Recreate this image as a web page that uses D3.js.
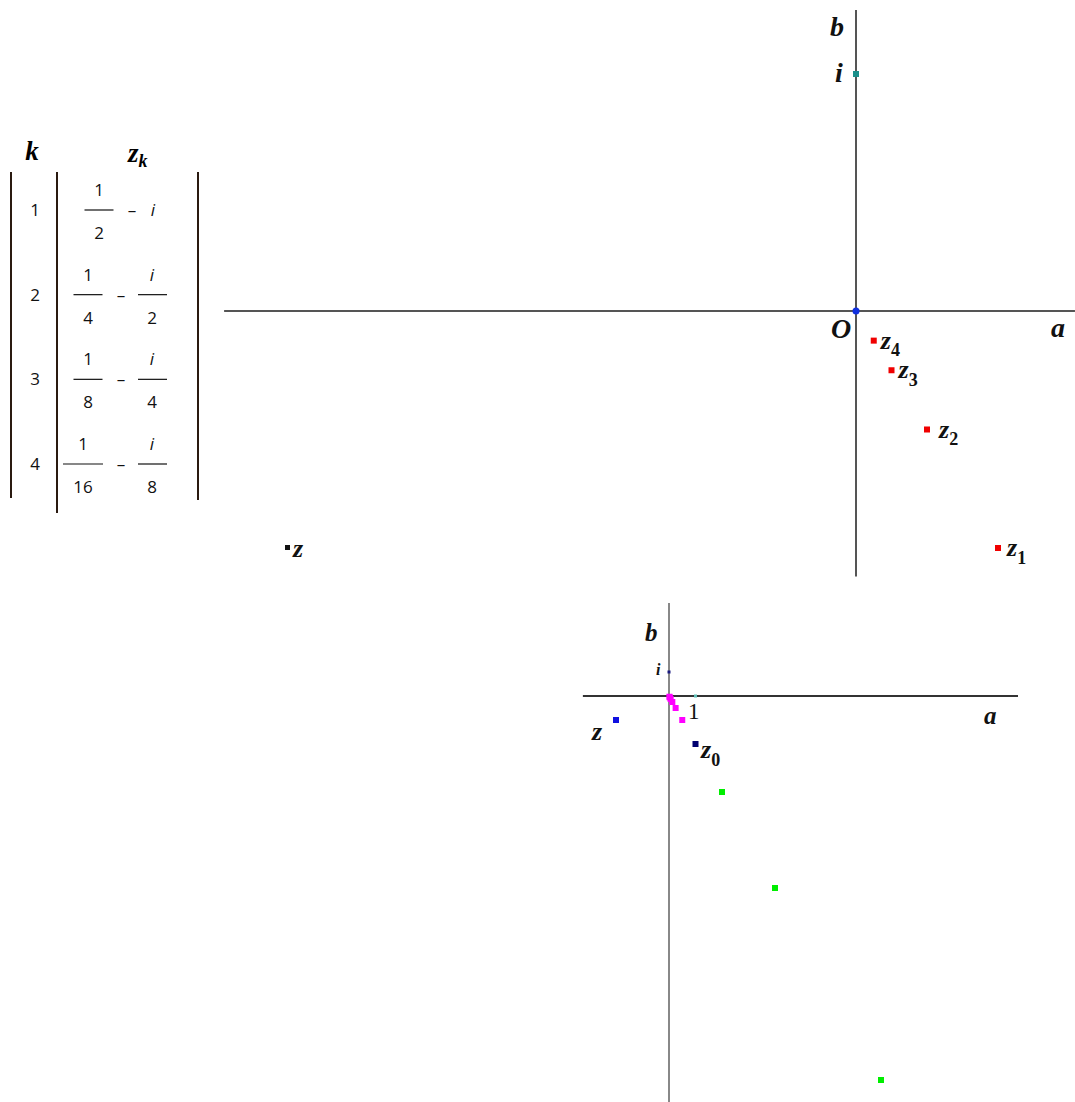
<!DOCTYPE html>
<html><head><meta charset="utf-8">
<script src="https://cdn.jsdelivr.net/npm/d3@7"></script>
<style>body{margin:0;background:#fff}svg{display:block}</style>
</head><body>
<svg id="c" width="1075" height="1102"></svg>
<script>
// ---- data ----
const tableK = ["1", "2", "3", "4"];
const tableReNum = ["1", "1", "1", "1"];
const tableReDen = ["2", "4", "8", "16"];
const tableImDen = [null, "2", "4", "8"];   // null => plain "i"
const zkRe = [0.5, 0.25, 0.125, 0.0625];
const zkIm = [-1, -0.5, -0.25, -0.125];
const zkLabels = ["1", "2", "3", "4"];
const zPoint = {re: -2, im: -1};
const z0Point = {re: 1, im: -2};
const iPoint = {re: 0, im: 1};
const onePoint = {re: 1, im: 0};
const magentaRe = [0.5, 0.25, 0.125, 0.0625, 0.03125, 0.015625];
const magentaIm = [-1, -0.5, -0.25, -0.125, -0.0625, -0.03125];
const greenRe = [2, 4, 8];
const greenIm = [-4, -8, -16];

const svg = d3.select("#c");
const serif = "'Liberation Serif','Times New Roman',serif";
const sans = "'Open Sans','Noto Sans',sans-serif";

// ---- table ----
const tbl = svg.append("g");
const rowY = d3.scaleLinear().domain([0, 3]).range([210, 464]);
tbl.append("text").attr("x", 32).attr("y", 160).attr("text-anchor", "middle")
  .attr("font-family", serif).attr("font-weight", "bold").attr("font-style", "italic")
  .attr("font-size", 27).text("k");
const zkH = tbl.append("text").attr("x", 128).attr("y", 162)
  .attr("font-family", serif).attr("font-weight", "bold").attr("font-style", "italic").attr("font-size", 27);
zkH.append("tspan").text("z");
zkH.append("tspan").attr("font-size", 18).attr("dy", 5).text("k");
[[11, 172, 498], [57, 172, 513], [198, 172, 500]].forEach(([x, y1, y2]) => {
  tbl.append("line").attr("x1", x).attr("x2", x).attr("y1", y1).attr("y2", y2)
    .attr("stroke", "#2a1a10").attr("stroke-width", 2);
});
tableK.forEach((k, i) => {
  const y = rowY(i);
  const g = tbl.append("g").attr("font-family", sans).attr("font-size", 17).attr("fill", "#111");
  g.append("text").attr("x", 35).attr("y", y + 6).attr("text-anchor", "middle").text(k);
  const single = tableImDen[i] === null;
  const rx = single ? 99 : (tableReDen[i].length > 1 ? 83 : 88);
  const rw = tableReDen[i].length > 1 ? 40 : 29;
  g.append("text").attr("x", rx).attr("y", y - 14).attr("text-anchor", "middle").text(tableReNum[i]);
  g.append("line").attr("x1", rx - rw / 2).attr("x2", rx + rw / 2).attr("y1", y).attr("y2", y)
    .attr("stroke", "#111").attr("stroke-width", 1.2);
  g.append("text").attr("x", rx).attr("y", y + 29).attr("text-anchor", "middle").text(tableReDen[i]);
  g.append("text").attr("x", single ? 132 : 121).attr("y", y + 6).attr("text-anchor", "middle").text("–");
  if (single) {
    g.append("text").attr("x", 153).attr("y", y + 6).attr("text-anchor", "middle")
      .attr("font-style", "italic").text("i");
  } else {
    g.append("text").attr("x", 152).attr("y", y - 14).attr("text-anchor", "middle")
      .attr("font-style", "italic").text("i");
    g.append("line").attr("x1", 138).attr("x2", 167).attr("y1", y).attr("y2", y)
      .attr("stroke", "#111").attr("stroke-width", 1.2);
    g.append("text").attr("x", 152).attr("y", y + 29).attr("text-anchor", "middle").text(tableImDen[i]);
  }
});

// ---- top plot ----
const xT = d3.scaleLinear().domain([0, 1]).range([856, 1140]);
const yT = d3.scaleLinear().domain([0, 1]).range([311, 74]);
const gTop = svg.append("g");
gTop.append("line").attr("x1", xT(-2.225)).attr("x2", xT(0.771)).attr("y1", yT(0)).attr("y2", yT(0))
  .attr("stroke", "#555").attr("stroke-width", 2);
gTop.append("line").attr("x1", xT(0)).attr("x2", xT(0)).attr("y1", yT(1.27)).attr("y2", yT(-1.12))
  .attr("stroke", "#555").attr("stroke-width", 2);
const lbl = (g, x, y, t, size, sub, subSize) => {
  const el = g.append("text").attr("x", x).attr("y", y).attr("font-family", serif)
    .attr("font-weight", "bold").attr("font-style", "italic").attr("font-size", size).attr("fill", "#111");
  el.append("tspan").text(t);
  if (sub) el.append("tspan").attr("font-size", subSize).attr("font-style", "normal")
    .attr("dy", size * 0.3).text(sub);
  return el;
};
lbl(gTop, 830, 36, "b", 28);
lbl(gTop, 835, 82, "i", 28);
lbl(gTop, 831, 338, "O", 28);
lbl(gTop, 1051, 337, "a", 28);
gTop.append("rect").attr("x", xT(iPoint.re) - 3).attr("y", yT(iPoint.im) - 3).attr("width", 6).attr("height", 6)
  .attr("fill", "#1a8f8a");
gTop.append("circle").attr("cx", xT(0)).attr("cy", yT(0)).attr("r", 3.5).attr("fill", "#1030e0");
zkRe.forEach((re, i) => {
  const px = xT(re), py = yT(zkIm[i]);
  gTop.append("rect").attr("x", px - 3).attr("y", py - 3).attr("width", 6).attr("height", 6).attr("fill", "#f00000");
  lbl(gTop, px + (i === 0 ? 9 : (i === 1 ? 12 : 7)), py + 8, "z", 26, zkLabels[i], 18);
});
gTop.append("rect").attr("x", xT(zPoint.re) - 3).attr("y", yT(zPoint.im) - 3).attr("width", 5).attr("height", 5).attr("fill", "#111");
lbl(gTop, xT(zPoint.re) + 5, yT(zPoint.im) + 9, "z", 26);

// ---- bottom plot ----
const xB = d3.scaleLinear().domain([0, 1]).range([669, 695.5]);
const yB = d3.scaleLinear().domain([0, 1]).range([696, 672]);
const bot = svg.append("g");
bot.append("line").attr("x1", xB(-3.25)).attr("x2", xB(13.17)).attr("y1", yB(0)).attr("y2", yB(0))
  .attr("stroke", "#333").attr("stroke-width", 2);
bot.append("line").attr("x1", xB(0)).attr("x2", xB(0)).attr("y1", yB(3.875)).attr("y2", yB(-17))
  .attr("stroke", "#888").attr("stroke-width", 2);
lbl(bot, 645, 641, "b", 25);
lbl(bot, 656, 675, "i", 16);
bot.append("text").attr("x", 688).attr("y", 719).attr("font-family", serif).attr("font-size", 23)
  .attr("fill", "#111").text("1");
lbl(bot, 984, 724, "a", 25);
bot.append("rect").attr("x", xB(iPoint.re) - 1.5).attr("y", yB(iPoint.im) - 1.5).attr("width", 3).attr("height", 3).attr("fill", "#1a1a80");
bot.append("rect").attr("x", xB(onePoint.re) - 1.5).attr("y", yB(onePoint.im) - 1.5).attr("width", 3).attr("height", 3).attr("fill", "#5fbfb8");
bot.append("rect").attr("x", xB(0) - 1.5).attr("y", yB(0) - 1.5).attr("width", 3).attr("height", 3).attr("fill", "#3050e0");
magentaRe.forEach((re, i) => {
  bot.append("rect").attr("x", xB(re) - 3).attr("y", yB(magentaIm[i]) - 3).attr("width", 6).attr("height", 6).attr("fill", "#ff00ff");
});
greenRe.forEach((re, i) => {
  bot.append("rect").attr("x", xB(re) - 3).attr("y", yB(greenIm[i]) - 3).attr("width", 6).attr("height", 6).attr("fill", "#00ee00");
});
bot.append("rect").attr("x", xB(zPoint.re) - 3).attr("y", yB(zPoint.im) - 3).attr("width", 6).attr("height", 6).attr("fill", "#1010e0");
lbl(bot, 592, 740, "z", 26);
bot.append("rect").attr("x", xB(z0Point.re) - 3).attr("y", yB(z0Point.im) - 3).attr("width", 6).attr("height", 6).attr("fill", "#000070");
lbl(bot, 701, 758, "z", 26, "0", 18);
</script>
</body></html>
